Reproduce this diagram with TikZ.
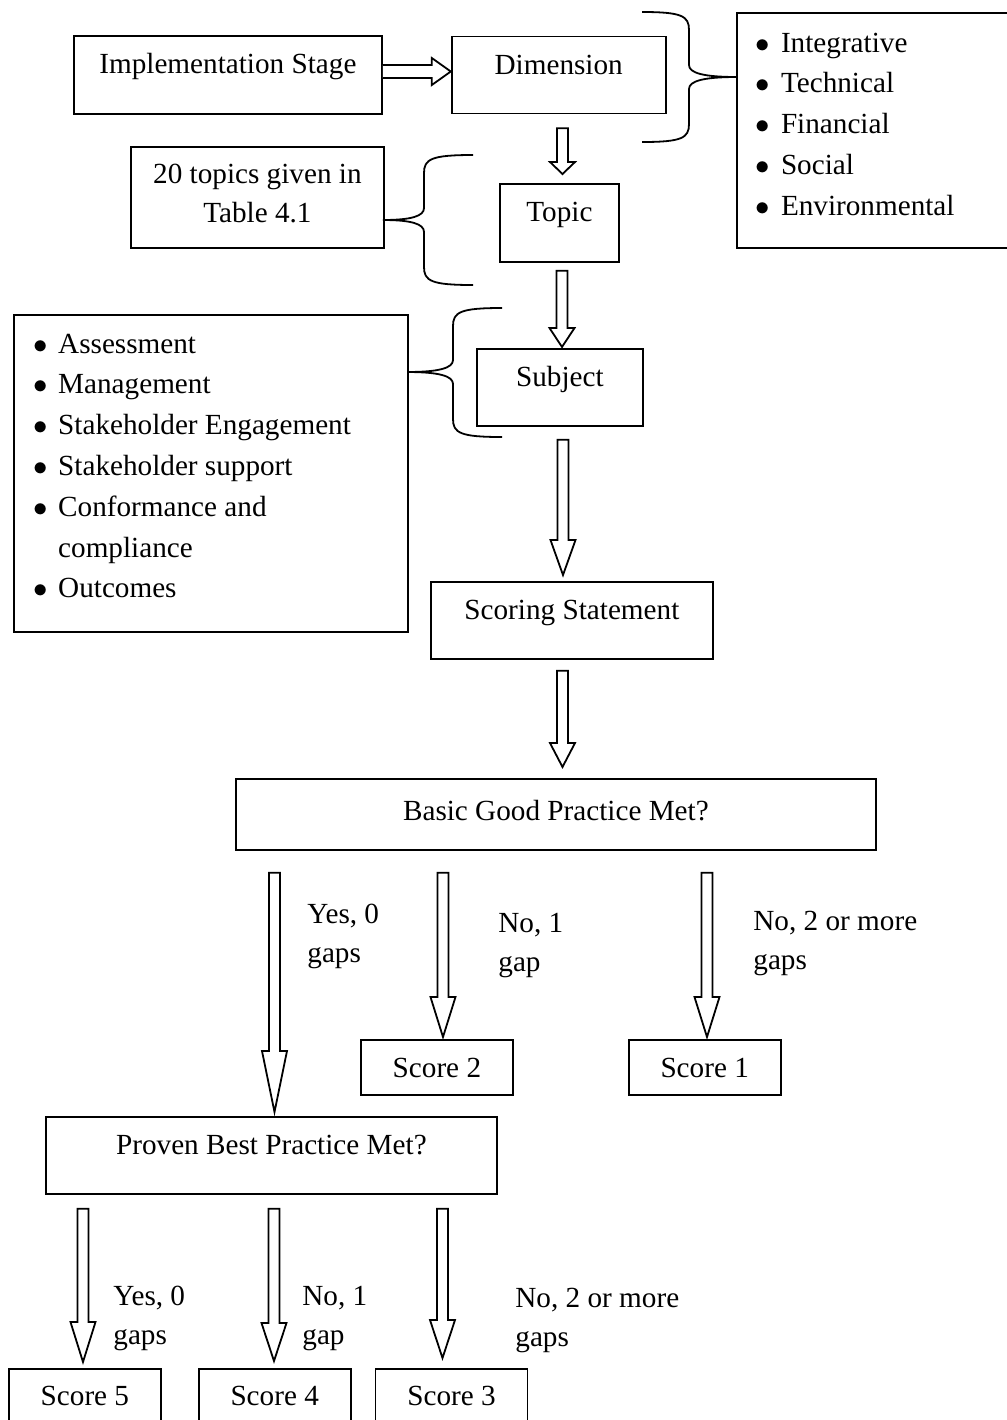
\documentclass[tikz,border=0pt]{standalone}
\usepackage{fontspec}
\setmainfont{Liberation Serif}
\usetikzlibrary{calc, positioning}

% hollow block arrow pointing down: x, from, to, tail gap, tip gap, head length
\newcommand{\hollowdown}[6]{%
  \coordinate (ax) at (#1,0);
  \path (#2.south -| ax) ++(0,#4) coordinate (atail);
  \path (#3.north -| ax) ++(0,-#5) coordinate (atip);
  \draw[hollow] ($(atail)+(-5.5,0)$) -- ($(atip)+(-5.5,-#6)$) -- ($(atip)+(-12.5,-#6)$)
    -- (atip) -- ($(atip)+(12.5,-#6)$) -- ($(atip)+(5.5,-#6)$) -- ($(atail)+(5.5,0)$) -- cycle;
}

% curly brace: tip x, tip y, spine x, end x, top y, bottom y
\newcommand{\curlybrace}[6]{%
  \draw[bracestroke] (#4,#5) .. controls ({#3+0.15*(#4-#3)},#5) and (#3,{#5+4}) .. (#3,{#5+18})
    -- (#3,{#2-12}) .. controls (#3,{#2-4}) and ({#3+0.3*(#1-#3)},#2) .. (#1,#2)
    .. controls ({#3+0.3*(#1-#3)},#2) and (#3,{#2+4}) .. (#3,{#2+12})
    -- (#3,{#6-18}) .. controls (#3,{#6-4}) and ({#3+0.15*(#4-#3)},#6) .. (#4,#6);
}

\newcommand{\twolines}[2]{\begin{tabular}[t]{@{}l@{}}#1\\#2\end{tabular}}
\newcommand{\bul}{$\bullet$}

\begin{document}
\begin{tikzpicture}[
    x=0.5pt, y=-0.5pt,
    font=\fontsize{14.6}{20.4}\selectfont,
    boxnode/.style={
        draw,
        line width=0.9pt,
        inner sep=0pt,
        anchor=north west,
        text height=19pt,
        text depth=19.5pt
    },
    listbox/.style={
        draw,
        line width=0.9pt,
        inner sep=0pt,
        anchor=north west
    },
    listtext/.style={
        inner sep=0pt,
        anchor=base west
    },
    labeltext/.style={
        inner sep=0pt,
        anchor=base west,
        font=\fontsize{14.6}{19.5}\selectfont
    },
    hollow/.style={
        draw,
        line width=0.9pt,
        fill=white,
        line join=miter
    },
    bracestroke/.style={
        draw,
        line width=0.9pt
    }
]
\useasboundingbox (0,0) rectangle (1007,1420);
\clip (0,0) rectangle (1007,1420);

% Upper chain
\node[boxnode, minimum width=154pt, text depth=20pt] (impl) at (73,35) {Implementation Stage};

\node[boxnode, minimum width=107pt, right=34pt of impl] (dim) {Dimension};

\node[boxnode, minimum width=59.5pt, text depth=20pt] (topic) at (499,183) {Topic};

\node[boxnode, minimum width=83pt] (subject) at (476,348) {Subject};

\node[boxnode, minimum width=141pt] (scoring) at (430,581) {Scoring Statement};

% Side boxes
\node[listbox, minimum width=138pt, minimum height=117.5pt] (dimlist) at (736,12) {};
\node[listtext] (dimitems) at ([xshift=9.3pt, yshift=-20pt]dimlist.north west)
    {\begin{tabular}[t]{@{}l@{\hspace{5.8pt}}l@{}}
     \bul & Integrative\\
     \bul & Technical\\
     \bul & Financial\\
     \bul & Social\\
     \bul & Environmental
     \end{tabular}};

\node[boxnode, minimum width=126.5pt, text height=18.5pt, text depth=32pt,
      font=\fontsize{14.6}{19.5}\selectfont] (topics) at (130,146)
    {\begin{tabular}[t]{@{}c@{}}20 topics given in\\ Table 4.1\end{tabular}};

\node[listbox, minimum width=197pt, minimum height=158.5pt] (subjlist) at (13,314) {};
\node[listtext] (subjitems) at ([xshift=9.8pt, yshift=-19.5pt]subjlist.north west)
    {\begin{tabular}[t]{@{}l@{\hspace{5.4pt}}l@{}}
     \bul & Assessment\\
     \bul & Management\\
     \bul & Stakeholder Engagement\\
     \bul & Stakeholder support\\
     \bul & Conformance and\\
          & compliance\\
     \bul & Outcomes
     \end{tabular}};

% Decision boxes
\node[boxnode, minimum width=320pt, text height=21pt, text depth=14.5pt] (basic) at (235,778) {Basic Good Practice Met?};

\node[boxnode, minimum width=76pt, text depth=8.5pt] (score2) at (360,1039) {Score 2};
\node[boxnode, minimum width=76pt, text depth=8.5pt, right=57pt of score2] (score1) {Score 1};

\node[boxnode, minimum width=225.5pt] (proven) at (45,1116) {Proven Best Practice Met?};

\node[boxnode, minimum width=76pt, text height=18.5pt, text depth=15pt] (score5) at (8,1368) {Score 5};
\node[boxnode, minimum width=76pt, text height=18.5pt, text depth=15pt, right=18pt of score5] (score4) {Score 4};
\node[boxnode, minimum width=76pt, text height=18.5pt, text depth=15pt, right=11.5pt of score4] (score3) {Score 3};

% Branch labels
\node[labeltext] (yesbasic) at (307,923) {\twolines{Yes, 0}{gaps}};
\node[labeltext] (onebasic) at (498,932) {\twolines{No, 1}{gap}};
\node[labeltext] (morebasic) at (753,930) {\twolines{No, 2 or more}{gaps}};
\node[labeltext] (yesproven) at (113,1305) {\twolines{Yes, 0}{gaps}};
\node[labeltext] (oneproven) at (302,1305) {\twolines{No, 1}{gap}};
\node[labeltext] (moreproven) at (515,1307) {\twolines{No, 2 or more}{gaps}};

% Horizontal arrow
\coordinate (hy) at (0,71.5);
\path (impl.east |- hy) coordinate (htail) (dim.west |- hy) coordinate (htip);
\draw[hollow] ($(htail)+(0,-6.5)$) -- ($(htip)+(-19,-6.5)$) -- ($(htip)+(-19,-13.5)$) -- (htip)
    -- ($(htip)+(-19,13.5)$) -- ($(htip)+(-19,6.5)$) -- ($(htail)+(0,6.5)$);

% Down arrows
\hollowdown{562.5}{dim}{topic}{14}{9}{12}
\hollowdown{562}{topic}{subject}{8}{1}{19}
\hollowdown{563}{subject}{scoring}{13}{6}{35}
\hollowdown{562.5}{scoring}{basic}{11}{11}{24}
\hollowdown{274.5}{basic}{proven}{22}{4}{61}
\hollowdown{443}{basic}{score2}{22}{2}{40}
\hollowdown{707}{basic}{score1}{22}{2}{40}
\hollowdown{83}{proven}{score5}{14}{6}{40}
\hollowdown{274}{proven}{score4}{14}{7}{38}
\hollowdown{442.5}{proven}{score3}{14}{10}{38}

% Braces
\curlybrace{737}{77}{689}{642}{12}{142}
\curlybrace{383}{220}{424}{473}{155}{285}
\curlybrace{407}{372}{453}{502}{308}{437}

\end{tikzpicture}
\end{document}
